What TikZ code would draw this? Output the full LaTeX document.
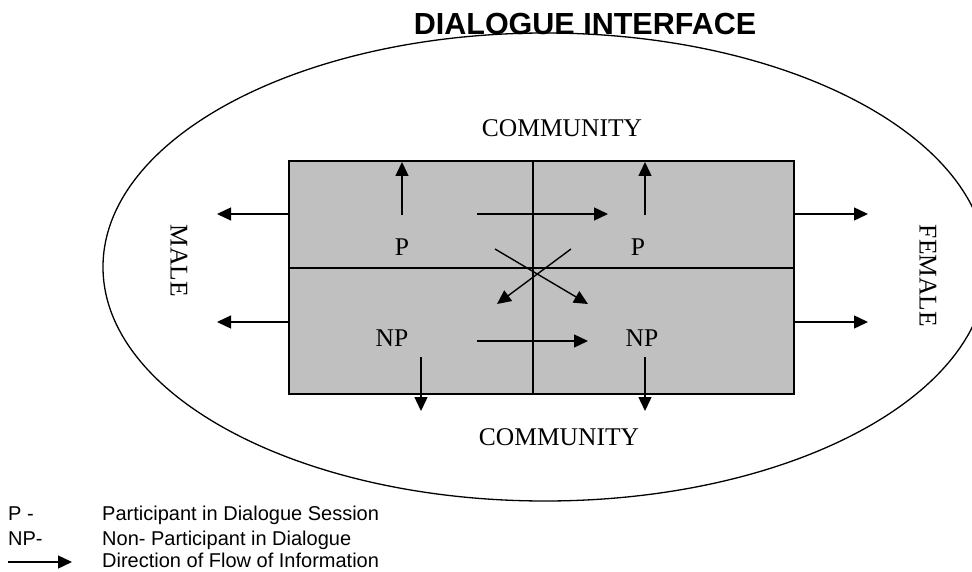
\documentclass[tikz,border=0pt]{standalone}
\usepackage{fontspec}
\setmainfont{Liberation Serif}
\newfontfamily\headfont{Liberation Sans}
\usetikzlibrary{arrows.meta}
\definecolor{boxgray}{HTML}{C0C0C0}
\begin{document}
\begin{tikzpicture}[x=1pt,y=-1pt,
  flow/.style={line width=1.4pt,-{Triangle[length=14pt,width=13pt]}},
  rule/.style={line width=1.3pt},
  txt/.style={inner sep=0pt,font=\fontsize{25.5}{30}\selectfont},
  side/.style={txt,rotate=-90},
  head/.style={inner sep=0pt,font=\headfont\bfseries\fontsize{30.5}{36}\selectfont},
  key/.style={inner sep=0pt,anchor=base west,font=\headfont\fontsize{20}{24}\selectfont}]
\useasboundingbox (0,0) rectangle (972,572);
\clip (0,0) rectangle (972,572);

% outer boundary
\draw[rule] (545,267) ellipse [x radius=442, y radius=234];
\node[head] (title) at (585,24) {DIALOGUE INTERFACE};

% the four cells
\node[draw,rule,fill=boxgray,minimum width=505pt,minimum height=233pt,inner sep=0pt] (box) at (541.5,277.5) {};
\coordinate (vtop) at (533,161);
\coordinate (vbot) at (533,394);
\coordinate (hl) at (289,268);
\coordinate (hr) at (794,268);
\draw[rule] (vtop) -- (vbot);
\draw[rule] (hl) -- (hr);

% labels
\node[txt] (pl) at (402,247) {P};
\node[txt] (pr) at (638,247) {P};
\node[txt] (npl) at (392,338) {NP};
\node[txt] (npr) at (642,338) {NP};
\node[txt] (comtop) at (562,128) {COMMUNITY};
\node[txt] (combot) at (559,437) {COMMUNITY};
\node[side] (male) at (179,261) {MALE};
\node[side] (female) at (928,276) {FEMALE};

% arrow end points
\coordinate (a1s) at (402,215); \coordinate (a1e) at (402,162);
\coordinate (a2s) at (645,215); \coordinate (a2e) at (645,162);
\coordinate (a3s) at (477,214); \coordinate (a3e) at (608,214);
\coordinate (a4s) at (495,249); \coordinate (a4e) at (588,304);
\coordinate (a5s) at (571,249); \coordinate (a5e) at (497,304);
\coordinate (a6s) at (477,341); \coordinate (a6e) at (588,341);
\coordinate (a7s) at (421,357); \coordinate (a7e) at (421,411);
\coordinate (a8s) at (645,357); \coordinate (a8e) at (645,411);
\coordinate (l1s) at (289,214); \coordinate (l1e) at (217,214);
\coordinate (l2s) at (289,322); \coordinate (l2e) at (217,322);
\coordinate (r1s) at (794,214); \coordinate (r1e) at (868,214);
\coordinate (r2s) at (794,322); \coordinate (r2e) at (868,322);

\foreach \a in {a1,a2,a3,a4,a5,a6,a7,a8,l1,l2,r1,r2}
  \draw[flow] (\a s) -- (\a e);

% key
\node[key] (kp) at (8,520) {P -};
\node[key] (knp) at (8,545) {NP-};
\coordinate (kas) at (8,562);
\coordinate (kae) at (72,562);
\draw[flow] (kas) -- (kae);
\node[key] (kpt) at (102,520) {Participant in Dialogue Session};
\node[key] (knpt) at (102,545) {Non- Participant in Dialogue};
\node[key] (kat) at (102,567) {Direction of Flow of Information};
\end{tikzpicture}
\end{document}
